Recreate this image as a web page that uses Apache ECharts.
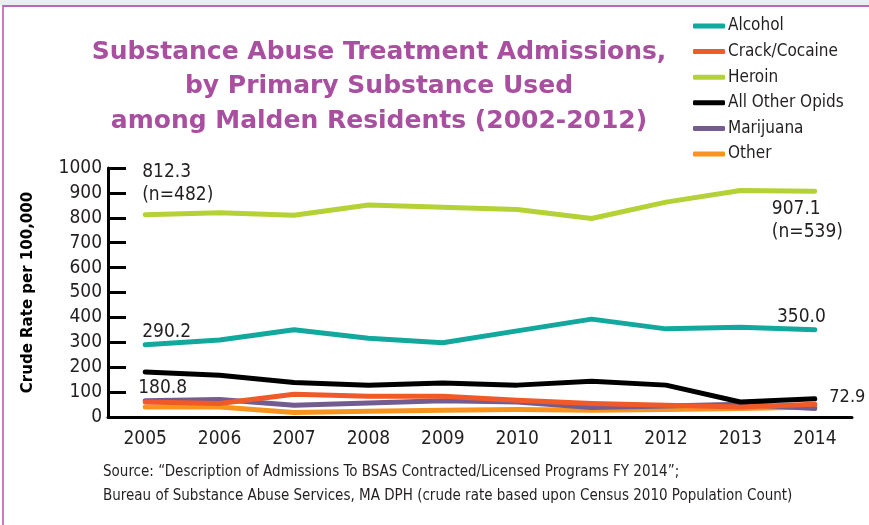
<!DOCTYPE html>
<html>
<head>
<meta charset="utf-8">
<script src="https://cdn.jsdelivr.net/npm/echarts@6/dist/echarts.min.js"></script>
<style>
    html, body { margin: 0; padding: 0; background: #fff; }
    #wrap { position: relative; width: 869px; height: 525px; overflow: hidden; background: #fff; }
    #band { position: absolute; left: 0; top: 0; width: 869px; height: 5px; background: #e8eff1; }
    #frame { position: absolute; left: 2px; top: 5px; width: 880px; height: 530px; border-top: 2px solid #b86ab0; border-left: 2px solid #c77fbf; }
    #chart { position: absolute; left: 0; top: 0; width: 869px; height: 525px; }
</style>
</head>
<body>
<div id="wrap">
    <div id="band"></div>
    <div id="frame"></div>
    <div id="chart"></div>
</div>
<script>
var years = ['2005', '2006', '2007', '2008', '2009', '2010', '2011', '2012', '2013', '2014']
var alcohol = [290.2, 309, 350, 316, 298, 346, 393, 354, 360, 350.0]
var crack = [60, 54, 91, 83, 83, 67, 54, 47, 40, 51]
var heroin = [812.3, 820, 810, 851, 842, 833, 797, 863, 910, 907.1]
var opids = [180.8, 168, 139, 128, 137, 128, 144, 128, 60, 72.9]
var marijuana = [65, 70, 47, 56, 65, 60, 38, 44, 51, 34]
var other = [40, 40, 18, 23, 27, 30, 27, 30, 34, 40]
var heroinN = [482, 539]

var font = '"Liberation Sans Narrow", "DejaVu Sans Condensed", sans-serif'
var ink = '#231f20'

var chartDom = document.getElementById('chart')
var myChart = echarts.init(chartDom)

function makeSeries(name, data, color, z) {
    return {
        name: name,
        type: 'line',
        data: data,
        z: z,
        symbol: 'circle',
        symbolSize: 1,
        showSymbol: true,
        itemStyle: { color: color },
        lineStyle: { color: color, width: 5, cap: 'round', join: 'round' },
        label: { show: false, color: ink, fontFamily: font, fontSize: 19, lineHeight: 23 },
        emphasis: { disabled: true },
        animation: false
    }
}

var sOther = makeSeries('Other', other, '#f7941e', 2)
var sMari = makeSeries('Marijuana', marijuana, '#735c8f', 3)
var sCrack = makeSeries('Crack/Cocaine', crack, '#f05a28', 4)
var sOpids = makeSeries('All Other Opids', opids, '#000000', 5)
var sAlc = makeSeries('Alcohol', alcohol, '#12a89d', 6)
var sHer = makeSeries('Heroin', heroin, '#b4d236', 7)

// per-point label placement for first and last values
sHer.data = heroin.map(function (v, i) {
    if (i === 0) return { value: v, label: { show: true, position: 'top', align: 'left', offset: [-3, -3], formatter: v.toFixed(1) + '\n(n=' + heroinN[0] + ')' } }
    if (i === heroin.length - 1) return { value: v, label: { show: true, position: 'bottom', align: 'left', offset: [-43, 1], formatter: v.toFixed(1) + '\n(n=' + heroinN[1] + ')' } }
    return v
})
sAlc.data = alcohol.map(function (v, i) {
    if (i === 0) return { value: v, label: { show: true, position: 'top', align: 'left', offset: [-3, 4], formatter: v.toFixed(1) } }
    if (i === alcohol.length - 1) return { value: v, label: { show: true, position: 'top', align: 'right', offset: [11, 4], formatter: v.toFixed(1) } }
    return v
})
sOpids.data = opids.map(function (v, i) {
    if (i === 0) return { value: v, label: { show: true, position: 'bottom', align: 'left', offset: [-7, -1], formatter: v.toFixed(1) } }
    if (i === opids.length - 1) return { value: v, label: { show: true, position: 'right', offset: [9, -2], fontSize: 18, formatter: v.toFixed(1) } }
    return v
})

var option = {
    backgroundColor: 'transparent',
    title: {
        text: 'Substance Abuse Treatment Admissions,\nby Primary Substance Used\namong Malden Residents (2002-2012)',
        left: 374,
        top: 30,
        textAlign: 'center',
        textStyle: {
            color: '#a84f9f',
            fontFamily: '"DejaVu Sans", sans-serif',
            fontWeight: 'bold',
            fontSize: 25,
            lineHeight: 34.5
        }
    },
    legend: {
        orient: 'vertical',
        left: 688,
        top: 11,
        icon: 'roundRect',
        itemWidth: 32,
        itemHeight: 5,
        itemGap: 5.6,
        data: ['Alcohol', 'Crack/Cocaine', 'Heroin', 'All Other Opids', 'Marijuana', 'Other'],
        textStyle: { color: ink, fontFamily: font, fontSize: 17, lineHeight: 20, padding: [0, 0, 0, -2] },
        selectedMode: false
    },
    grid: {
        left: 108,
        right: 17,
        top: 168,
        bottom: 108
    },
    xAxis: {
        type: 'category',
        data: years,
        boundaryGap: true,
        axisLine: { lineStyle: { color: '#000', width: 3 } },
        axisTick: { inside: true, length: 6, lineStyle: { color: '#000', width: 2.5 } },
        axisLabel: { color: ink, fontFamily: font, fontSize: 19, margin: 13 }
    },
    yAxis: {
        type: 'value',
        min: 0,
        max: 1000,
        interval: 100,
        name: 'Crude Rate per 100,000',
        nameLocation: 'middle',
        nameGap: 72,
        nameTextStyle: { color: '#000', fontFamily: '"DejaVu Sans", sans-serif', fontWeight: 'bold', fontSize: 15 },
        splitLine: { show: false },
        axisLine: { show: true, lineStyle: { color: '#000', width: 3 } },
        axisTick: { show: true, inside: true, length: 18, lineStyle: { color: '#000', width: 3 } },
        axisLabel: { color: ink, fontFamily: font, fontSize: 19, margin: 6, formatter: function (v) { return String(v) } }
    },
    graphic: [
        {
            type: 'text',
            left: 103,
            top: 460,
            style: {
                text: 'Source: \u201cDescription of Admissions To BSAS Contracted/Licensed Programs FY 2014\u201d;\nBureau of Substance Abuse Services, MA DPH (crude rate based upon Census 2010 Population Count)',
                fill: ink,
                font: '15px ' + font,
                lineHeight: 24
            }
        }
    ],
    series: [sOther, sMari, sCrack, sOpids, sAlc, sHer]
}
myChart.setOption(option)
</script>
</body>
</html>
